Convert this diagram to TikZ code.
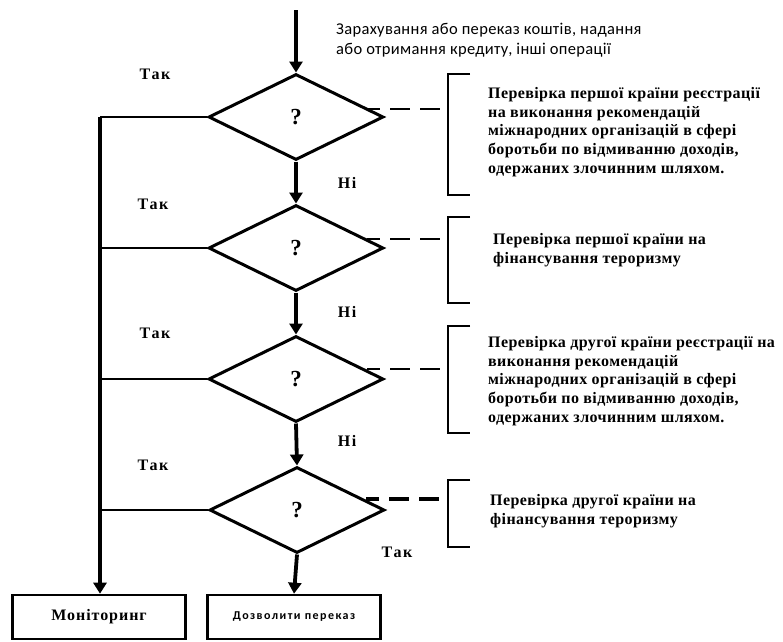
\documentclass[tikz,border=0pt]{standalone}
\usepackage{fontspec}
\setmainfont{Liberation Serif}
\newfontfamily\carlito{Carlito}
\newfontfamily\carlitowide[LetterSpace=2]{Carlito}
\newfontfamily\carlitospaced[LetterSpace=12]{Carlito}
\newfontfamily\serifwide[LetterSpace=2.5]{Liberation Serif}
\newfontfamily\serifspaced[LetterSpace=6]{Liberation Serif}
\newfontfamily\serifanswer[LetterSpace=10]{Liberation Serif}
\usetikzlibrary{shapes.geometric,arrows.meta,calc}

\begin{document}
\begin{tikzpicture}[x=1pt,y=-1pt,
  decision/.style={diamond, draw, line width=3pt, minimum width=175pt,
    minimum height=86pt, inner sep=0pt,
    font=\bfseries\fontsize{23}{25}\selectfont},
  endbox/.style={draw, line width=2.6pt, minimum width=173pt, minimum height=44pt,
    inner sep=0pt},
  flow/.style={line width=3.8pt, -{Triangle[width=13pt,length=11pt]}},
  branch/.style={line width=2.6pt},
  dashline/.style={line width=2.6pt, dash pattern=on 20pt off 10pt, dash phase=7pt},
  bracketline/.style={line width=1.4pt},
  note/.style={anchor=west, align=left, inner sep=0pt,
    font=\serifwide\bfseries\fontsize{16}{18.6}\selectfont},
  answer/.style={inner sep=0pt, font=\serifanswer\bfseries\fontsize{16}{18}\selectfont},
]
\useasboundingbox (0,0) rectangle (783,641);

% decisions
\node[decision] (D1) at (296,117) {?};
\node[decision] (D2) at (296,248) {?};
\node[decision] (D3) at (296,379) {?};
\node[decision] (D4) at (297,510) {?};

% final boxes
\node[endbox, font=\serifspaced\bfseries\fontsize{16}{18}\selectfont] (M) at (99,617) {Моніторинг};
\node[endbox, font=\carlitospaced\bfseries\fontsize{12}{14}\selectfont] (P) at (294,617) {Дозволити переказ};

% incoming operation
\coordinate (S) at (296,10);
\node[anchor=west, align=left, inner sep=0pt, font=\carlitowide\fontsize{16.5}{20}\selectfont]
  (T0) at (336,40) {Зарахування або переказ коштів, надання\\або отримання кредиту, інші операції};
\draw[flow] (S) -- (D1.north);

% main "no" chain
\draw[flow] (D1.south) -- (D2.north);
\draw[flow] (D2.south) -- (D3.north);
\draw[flow] (D3.south) -- (D4.north);
\draw[flow] (D4.south) -- (P.north);

% "yes" branches to monitoring
\coordinate (L1) at (100,117);
\draw[branch] (D1.west) -- (L1);
\draw[flow] (L1) -- (M.north -| L1);
\draw[branch] (D2.west) -- (D2.west -| L1);
\draw[branch] (D3.west) -- (D3.west -| L1);
\draw[branch] (D4.west) -- (D4.west -| L1);

% labels
\node[answer] (Y1) at (155,74) {Так};
\node[answer] (N1) at (347,183) {Ні};
\node[answer] (Y2) at (153,204) {Так};
\node[answer] (N2) at (347,312) {Ні};
\node[answer] (Y3) at (155,333) {Так};
\node[answer] (N3) at (347,441) {Ні};
\node[answer] (Y4) at (153,465) {Так};
\node[answer] (Y5) at (397,552) {Так};

% check descriptions with brackets
\node[note] (C1) at (488,132) {Перевірка першої країни реєстрації\\на виконання рекомендацій\\міжнародних організацій в сфері\\боротьби по відмиванню доходів,\\одержаних злочинним шляхом.};
\node[note] (C2) at (493,250) {Перевірка першої країни на\\фінансування тероризму};
\node[note] (C3) at (488,381) {Перевірка другої країни реєстрації на\\виконання рекомендацій\\міжнародних організацій в сфері\\боротьби по відмиванню доходів,\\одержаних злочинним шляхом.};
\node[note] (C4) at (490,511) {Перевірка другої країни на\\фінансування тероризму};

\coordinate (B1a) at (470,74);  \coordinate (B1b) at (470,195);
\coordinate (B2a) at (470,217); \coordinate (B2b) at (470,303);
\coordinate (B3a) at (470,326); \coordinate (B3b) at (470,433);
\coordinate (B4a) at (470,480); \coordinate (B4b) at (470,547);
\draw[bracketline] (B1a) -- ++(-22,0) |- (B1b);
\draw[bracketline] (B2a) -- ++(-22,0) |- (B2b);
\draw[bracketline] (B3a) -- ++(-22,0) |- (B3b);
\draw[bracketline] (B4a) -- ++(-22,0) |- (B4b);

\coordinate (K1) at (448,109);
\coordinate (K2) at (448,239);
\coordinate (K3) at (448,369);
\coordinate (K4) at (448,499);
\draw[dashline] ($(D1.east)+(-18,-8)$) -- (K1);
\draw[dashline] ($(D2.east)+(-18,-9)$) -- (K2);
\draw[dashline] ($(D3.east)+(-18,-10)$) -- (K3);
\draw[dashline, line width=3.4pt] ($(D4.east)+(-20,-11)$) -- (K4);
\end{tikzpicture}
\end{document}
